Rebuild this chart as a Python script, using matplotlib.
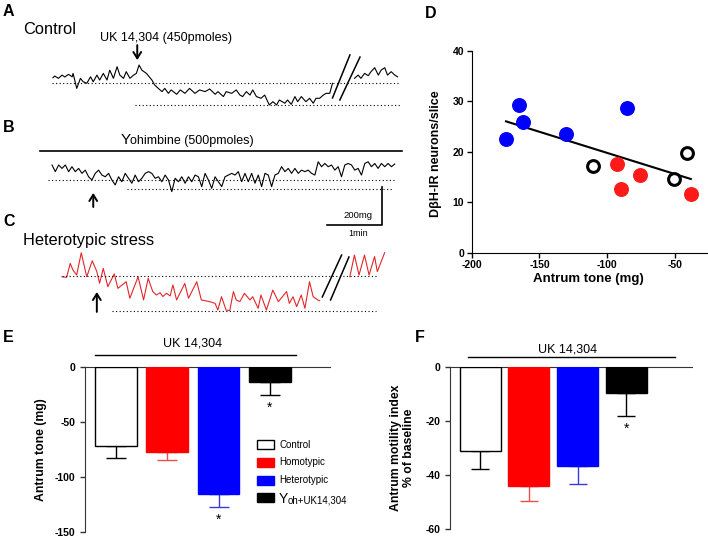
import matplotlib.pyplot as plt
from matplotlib.patches import Rectangle
import numpy as np

plt.rcParams['font.family'] = ['Liberation Sans', 'DejaVu Sans']
plt.rcParams['axes.unicode_minus'] = False

W, H = 708, 540
PX_PER_S = 55 / 60.0     # 1 min scale bar
PX_PER_MG = 38 / 200.0   # 200 mg scale bar

# trace A, control + UK 14,304 (s, mg from baseline)
a_t = [1, 3, 7, 11, 14, 18, 22, 23, 27, 31, 34, 38, 42, 45, 49, 52, 56, 60, 63, 67,
       71, 74, 78, 81, 85, 89, 92, 95, 98, 103, 109, 112, 116, 120, 123, 127, 130, 136, 140, 145,
       150, 156, 161, 167, 172, 178, 181, 187, 190, 196, 201, 205, 208, 212, 216, 219, 223, 228, 232, 237,
       241, 245, 248, 254, 257, 261, 265, 268, 272, 277, 281, 285, 288, 292, 296, 299, 303, 306]
a_mg = [26, 35, 23, 40, 30, 44, 31, 49, -30, 23, 5, -3, 31, 5, 40, 14, 49, 14, 66, 23,
        84, 40, 23, 58, 23, 40, 49, 93, 66, 49, 14, -12, -30, -47, -30, -56, -38, -61, -38, -56,
        -30, -56, -38, -47, -33, -61, -47, -73, -47, -56, -38, -65, -73, -47, -65, -38, -73, -82, -65, -117,
        -100, -117, -91, -108, -91, -114, -73, -100, -73, -100, -82, -108, -82, -82, -65, -56, -56, -3]
a_t2 = [330, 334, 337, 341, 345, 348, 352, 356, 359, 363, 366, 370, 374, 377]
a_mg2 = [23, 40, 23, 49, 37, 58, 79, 40, 66, 79, 40, 58, 40, 31]

# trace B, yohimbine then UK 14,304, one sample every b_dt seconds
b_dt = 3.63
b_mg = [79, 44, 79, 61, 79, 44, 70, 44, 61, 35, 52, 17, 0, 35, 52, 26, 17, 35, 0, -26,
        17, -9, 35, 9, -17, 26, -9, 9, 35, 44, 35, 9, 17, -9, 26, 0, -61, 9, -9, 17,
        -17, 17, -9, 26, 17, -35, 35, 0, -44, 17, -9, -35, 17, 26, 35, 26, 44, -9, 35, -9,
        35, -17, 26, -35, 35, 26, -35, 26, 35, 70, 44, 61, 35, 61, 35, 52, 44, 52, 35, 26,
        96, 70, 87, 70, 79, 52, 70, 17, 79, 87, 79, 52, 61, 26, 87, 96, 70, 87, 61, 87,
        70, 87, 70, 84]

# trace C, heterotypic stress
c_t = [0, 5, 9, 12, 16, 21, 27, 33, 38, 41, 45, 50, 57, 61, 70, 74, 83, 89, 94, 99,
       103, 107, 110, 114, 118, 121, 125, 134, 138, 147, 152, 156, 161, 167, 170, 174, 179, 183, 187, 190,
       194, 199, 205, 208, 214, 217, 223, 230, 236, 245, 248, 252, 256, 261, 265, 270, 274, 279, 281]
c_mg = [-4, -7, 66, 31, 5, 122, -4, 80, 23, -38, 40, -56, 11, -65, -30, -117, -4, -126, -12, -82,
        -100, -88, -108, -91, -105, -47, -126, -39, -117, -30, -126, -130, -135, -144, -179, -109, -179, -182, -82, -126,
        -135, -91, -126, -109, -170, -100, -179, -74, -135, -82, -144, -109, -161, -100, -170, -30, -109, -126, -130]
c_t2 = [314, 319, 324, 330, 335, 341, 344, 352]
c_mg2 = [-4, 110, 5, 110, 5, 102, 23, 123]

# panel D
blue_x = [-174.7, -165, -161.9, -130.4, -85.4]
blue_y = [22.5, 29.3, 26, 23.6, 28.6]
red_x = [-93, -90, -75.6, -38.4]
red_y = [17.5, 12.7, 15.4, 11.6]
open_x = [-110.2, -50.7, -41.4]
open_y = [17.2, 14.7, 19.7]

# panels E and F
groups = ["Control", "Homotypic", "Heterotypic", "Yoh+UK14,304"]
tone_mean = [-72, -77.3, -116, -14.2]
tone_sem = [10.6, 7.5, 11.3, 11.6]
motility_mean = [-31.1, -44.0, -36.7, -9.6]
motility_sem = [6.7, 5.6, 6.4, 8.6]
tone_star = [False, False, True, True]
motility_star = [False, False, False, True]

bar_face = ['white', '#ff0000', '#0000ff', 'black']
bar_edge = ['black', '#ff0000', '#0000ff', 'black']
err_col = ['black', '#e8504a', '#3a3ad8', 'black']

fig = plt.figure(figsize=(W / 100, H / 100), dpi=100)


def trace_axes(x0, y0, left=30, right=420, up=80, down=50):
    top, bottom = y0 - up, y0 + down
    ax = fig.add_axes([left / W, 1 - bottom / H, (right - left) / W, (bottom - top) / H])
    ax.set_xlim((left - x0) / PX_PER_S, (right - x0) / PX_PER_S)
    ax.set_ylim((y0 - bottom) / PX_PER_MG, (y0 - top) / PX_PER_MG)
    ax.axis('off')
    return ax


dots = dict(color='k', lw=0.8, ls=(0, (1, 2.2)))
arrow = dict(arrowstyle='->,head_length=0.45,head_width=0.28', lw=1.4, color='k',
             shrinkA=0, shrinkB=0)
trace_kw = dict(lw=0.8, solid_joinstyle='round')

# A
ax_a = trace_axes(52, 82.7)
ax_a.plot(a_t, a_mg, color='k', **trace_kw)
ax_a.plot(a_t2, a_mg2, color='k', **trace_kw)
ax_a.plot([0, 380], [0, 0], **dots)
ax_a.plot([90, 380], [-117, -117], **dots)
ax_a.plot([306, 325], [-80, 146], color='k', lw=1.1)
ax_a.plot([314, 336], [-91, 135], color='k', lw=1.1)
ax_a.annotate('', xy=(93, 119), xytext=(93, 198), arrowprops=arrow)

# B
ax_b = trace_axes(52, 180)
ax_b.plot(np.arange(len(b_mg)) * b_dt, b_mg, color='k', **trace_kw)
ax_b.plot([-4, 374], [0, 0], **dots)
ax_b.plot([82, 372], [-47, -47], **dots)
ax_b.annotate('', xy=(45, -68), xytext=(45, -142), arrowprops=arrow)
ax_b.plot([300, 360, 360], [-237, -237, -37], color='k', lw=1.2)

# C
ax_c = trace_axes(62, 276)
ax_c.plot(c_t, c_mg, color='#e3262b', **trace_kw)
ax_c.plot(c_t2, c_mg2, color='#e3262b', **trace_kw)
ax_c.plot([0, 344], [0, 0], **dots)
ax_c.plot([54, 343], [-182, -182], **dots)
ax_c.plot([284, 305], [-110, 110], color='k', lw=1.1)
ax_c.plot([293, 313], [-126, 100], color='k', lw=1.1)
ax_c.annotate('', xy=(38, -84), xytext=(38, -189), arrowprops=arrow)

# D
ax_d = fig.add_axes([471.7 / W, 1 - 252.7 / H, (708 - 471.7) / W, (252.7 - 51) / H])
ax_d.scatter(blue_x, blue_y, s=95, color='#0000ff', zorder=3)
ax_d.scatter(red_x, red_y, s=95, color='#ff1a1a', zorder=3)
ax_d.scatter(open_x, open_y, s=72, facecolor='white', edgecolor='k', lw=2.2, zorder=3)
all_x = blue_x + red_x + open_x
all_y = blue_y + red_y + open_y
fit = np.poly1d(np.polyfit(all_x, all_y, 1))
xs = np.array([min(all_x), max(all_x)])
ax_d.plot(xs, fit(xs), color='k', lw=1.5, zorder=2)
ax_d.set_xlim(-200, -25.7)
ax_d.set_ylim(0, 40)
ax_d.set_xticks([-200, -150, -100, -50])
ax_d.set_yticks([0, 10, 20, 30, 40])
for s in ['top', 'right']:
    ax_d.spines[s].set_visible(False)
ax_d.tick_params(labelsize=7.5, length=3.5, width=1, pad=2)
for lab in ax_d.get_xticklabels() + ax_d.get_yticklabels():
    lab.set_fontweight('bold')
ax_d.set_xlabel('Antrum tone (mg)', fontsize=9.5, fontweight='bold')
ax_d.set_ylabel('D\u03b2H-IR neurons/slice', fontsize=9, fontweight='bold')
ax_d.xaxis.set_label_coords(0.492, -0.1)
ax_d.yaxis.set_label_coords(-0.126, 0.49)


def bar_panel(rect, means, sems, stars, ylim, yticks, xlim, width, cap):
    ax = fig.add_axes(rect)
    x = np.arange(len(means))
    ax.bar(x, means, width=width, color=bar_face, edgecolor=bar_edge, lw=1, zorder=3)
    for xi, m, e, c, st in zip(x, means, sems, err_col, stars):
        ax.errorbar(xi, m, yerr=[[e], [0]], color=c, lw=1, capsize=cap, capthick=1, zorder=2)
        if st:
            ax.annotate('*', xy=(xi, m - e), xytext=(0, -4), textcoords='offset points',
                        ha='center', va='top', fontsize=10)
    ax.set_xlim(*xlim)
    ax.set_ylim(*ylim)
    ax.set_yticks(yticks)
    ax.set_xticks([])
    for s in ['bottom', 'right']:
        ax.spines[s].set_visible(False)
    for s in ['top', 'left']:
        ax.spines[s].set_color('#333333')
    ax.tick_params(labelsize=7.5, length=3.5, width=1, color='#333333')
    for lab in ax.get_yticklabels():
        lab.set_fontweight('bold')
    return ax


ax_e = bar_panel([85 / W, 1 - 531.7 / H, 245 / W, 165 / H], tone_mean, tone_sem, tone_star,
                 (-150, 0), [0, -50, -100, -150], (-0.6, 4.17), 0.81, 7)
ax_e.set_ylabel('Antrum tone (mg)', fontsize=8.8, fontweight='bold')
ax_e.yaxis.set_label_coords(-0.155, 0.5)

for i, (name, fc, ec) in enumerate(zip(groups, bar_face, bar_edge)):
    yc = 0.527 - 0.107 * i
    ax_e.add_patch(Rectangle((0.701, yc - 0.027), 0.0706, 0.0545, transform=ax_e.transAxes,
                             facecolor=fc, edgecolor=ec, lw=1, clip_on=False))
    if name.startswith('Y'):
        ax_e.text(0.790, yc - 0.033, name[0], transform=ax_e.transAxes, fontsize=10, va='baseline')
        ax_e.text(0.829, yc - 0.033, name[1:], transform=ax_e.transAxes, fontsize=7, va='baseline')
    else:
        ax_e.text(0.793, yc, name, transform=ax_e.transAxes, fontsize=7, va='center')

ax_f = bar_panel([450 / W, 1 - 529.3 / H, 241.7 / W, 162.6 / H], motility_mean, motility_sem,
                 motility_star, (-60, 0), [0, -20, -40, -60], (-0.62, 4.34), 0.84, 6.5)
ax_f.set_ylabel('Antrum motility index\n% of baseline', fontsize=8.8, fontweight='bold',
                linespacing=1.1)
ax_f.yaxis.set_label_coords(-0.145, 0.5)

# text overlay in pixel coordinates
ov = fig.add_axes([0, 0, 1, 1])
ov.set_xlim(0, W)
ov.set_ylim(H, 0)
ov.axis('off')
for letter, (lx, ly) in zip('ABCDEF', [(3, 12), (3, 128), (3, 221), (425, 14), (3, 337.5), (415, 337.5)]):
    ov.text(lx, ly, letter, fontsize=11.5, fontweight='bold', va='center')
ov.text(23, 29, 'Control', fontsize=11.8, va='center')
ov.text(23, 240, 'Heterotypic stress', fontsize=11.8, va='center')
ov.text(166, 38, 'UK 14,304 (450pmoles)', fontsize=9, ha='center', va='center')
ov.text(120.5, 144, 'Y', fontsize=11, va='baseline')
ov.text(129.5, 144, 'ohimbine (500pmoles)', fontsize=9, va='baseline')
ov.plot([40, 402], [151, 151], color='k', lw=1.2)
ov.text(358, 215, '200mg', fontsize=6.8, ha='center', va='center')
ov.text(358, 233, '1min', fontsize=6.5, ha='center', va='center')
ov.plot([95, 296], [355, 355], color='k', lw=1)
ov.text(193, 343.5, 'UK 14,304', fontsize=9, ha='center', va='center')
ov.plot([468, 675], [357, 357], color='k', lw=1)
ov.text(568, 349, 'UK 14,304', fontsize=9, ha='center', va='center')

fig.savefig('out.png', dpi=100)
